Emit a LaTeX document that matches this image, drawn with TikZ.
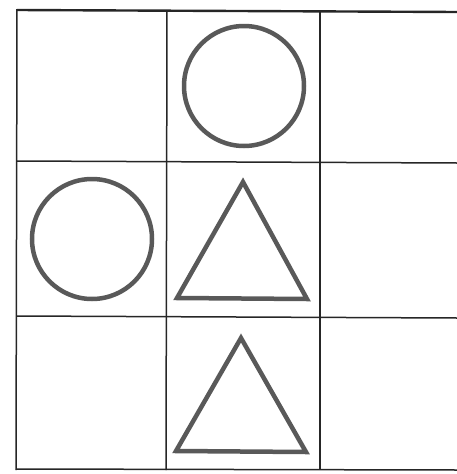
\documentclass[tikz,border=0pt]{standalone}
\usepackage{tikz}
\usetikzlibrary{positioning}

\begin{document}
\begin{tikzpicture}[x=1pt,y=-1pt,
  gridline/.style={draw=black!85,line width=1.5pt},
  figline/.style={draw=black!65,line width=4.5pt,line join=miter},
  ring/.style={figline,circle,minimum size=120pt,inner sep=0pt}]
  \useasboundingbox (0,0) rectangle (457,474);
  % grid
  \draw[gridline,line width=2.4pt] (17,10) -- (457,12);
  \draw[gridline] (17,161) -- (457,163);
  \draw[gridline] (17,316) -- (457,318);
  \draw[gridline] (16,469) -- (457,470);
  \draw[gridline] (17,9) -- (16,470);
  \draw[gridline] (167,10) -- (166,470);
  \draw[gridline] (320,11) -- (320,470);
  % figures
  \node[ring] (topcirc) at (244,86) {};
  \node[ring] (leftcirc) at (92,239) {};
  \draw[figline] (243,182) -- (307,299) -- (177,298) -- cycle;
  \draw[figline] (241,338) -- (306,452) -- (176,451) -- cycle;
\end{tikzpicture}
\end{document}
